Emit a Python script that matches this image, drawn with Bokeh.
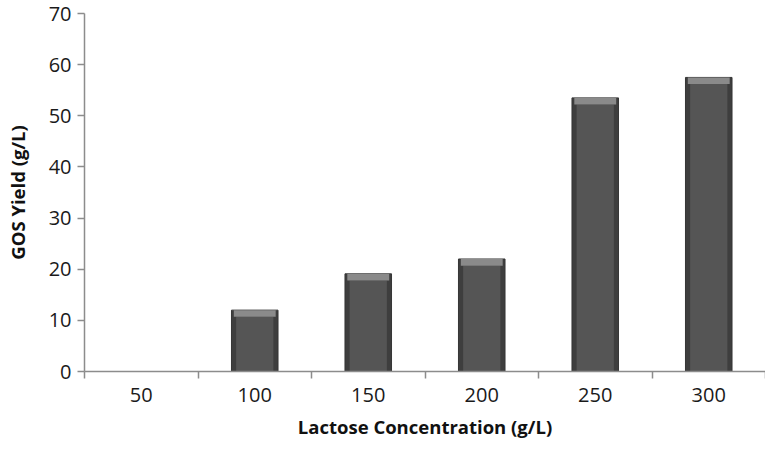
from bokeh.plotting import figure
from bokeh.models import FixedTicker, Range1d, ColumnDataSource
from bokeh.embed import file_html
from bokeh.resources import INLINE

categories = ["50", "100", "150", "200", "250", "300"]
gos_yield = [0.0, 12.0, 19.1, 22.0, 53.5, 57.5]
y_ticks = [0, 10, 20, 30, 40, 50, 60, 70]

x_pos = [i + 0.5 for i in range(len(categories))]
bevel = 1.3
src = ColumnDataSource(dict(
    x=x_pos,
    top=gos_yield,
    body_top=[max(v - bevel, 0) for v in gos_yield],
))

p = figure(width=765, height=443, output_backend="svg", toolbar_location=None,
           x_range=Range1d(0, len(categories)), y_range=Range1d(0, 70))
p.min_border_left = 84
p.min_border_right = 0
p.min_border_top = 13
p.min_border_bottom = 72
p.outline_line_color = None
p.grid.visible = False
p.background_fill_color = "white"
p.border_fill_color = "white"

BAR_W = 0.41
# outer (dark edges)
p.vbar(x="x", top="top", bottom=0, width=BAR_W, source=src,
       fill_color="#3e3e3e", line_color="#353535", line_width=1)
# inner lighter body
p.vbar(x="x", top="body_top", bottom=0, width=BAR_W * 0.8, source=src,
       fill_color="#555555", line_color=None)
# top bevel
p.vbar(x="x", top="top", bottom="body_top", width=BAR_W * 0.9, source=src,
       fill_color="#8a8a8a", line_color=None)

font = "Open Sans"
axis_color = "#8c8c8c"

p.xaxis.ticker = FixedTicker(ticks=x_pos, minor_ticks=list(range(len(categories) + 1)))
p.xaxis.major_label_overrides = {x: c for x, c in zip(x_pos, categories)}
p.xaxis.major_tick_out = 0
p.xaxis.major_tick_in = 0
p.xaxis.minor_tick_out = 7
p.xaxis.minor_tick_in = 0
p.xaxis.minor_tick_line_color = axis_color
p.xaxis.minor_tick_line_width = 1.5
p.xaxis.major_label_standoff = 9
p.xaxis.axis_label = "Lactose Concentration (g/L)"
p.xaxis.axis_label_standoff = 9

p.yaxis.ticker = FixedTicker(ticks=y_ticks)
p.yaxis.minor_tick_line_color = None
p.yaxis.major_tick_out = 7
p.yaxis.major_tick_in = 0
p.yaxis.major_tick_line_color = axis_color
p.yaxis.major_tick_line_width = 1.5
p.yaxis.major_label_standoff = 6
p.yaxis.axis_label = "GOS Yield (g/L)"
p.yaxis.axis_label_standoff = 16

for ax in (p.xaxis, p.yaxis):
    ax.axis_line_color = axis_color
    ax.axis_line_width = 1.5
    ax.major_label_text_font = font
    ax.major_label_text_font_size = "20px"
    ax.major_label_text_color = "#1a1a1a"
    ax.axis_label_text_font = font
    ax.axis_label_text_font_style = "bold"
    ax.axis_label_text_font_size = "18.5px"
    ax.axis_label_text_color = "#111111"

open("out.html", "w").write(file_html(p, INLINE))
